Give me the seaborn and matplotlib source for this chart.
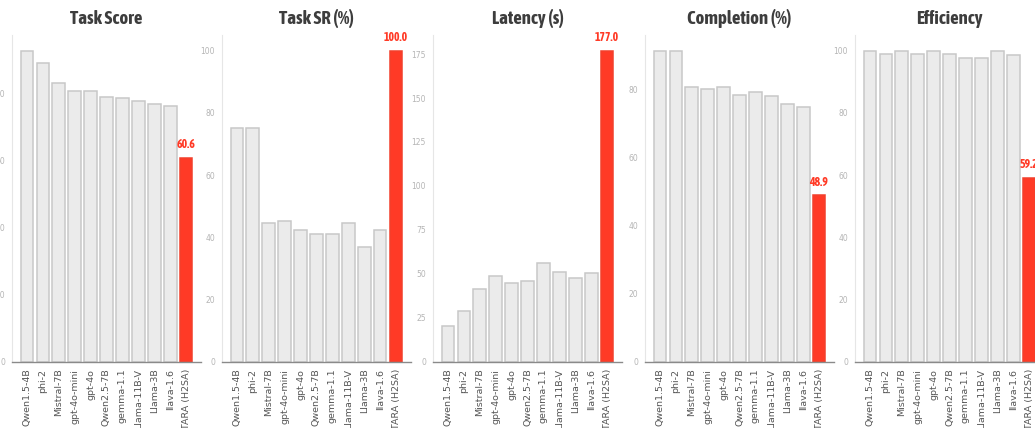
import matplotlib
matplotlib.use("Agg")
import matplotlib.pyplot as plt
from matplotlib import font_manager
import seaborn as sns
import pandas as pd

models = ["Qwen1.5-4B", "phi-2", "Mistral-7B", "gpt-4o-mini", "gpt-4o",
          "Qwen2.5-7B", "gemma-1.1", "Llama-11B-V", "Llama-3B", "llava-1.6",
          "STARA (H2SA)"]

task_score = [92.7, 89.0, 82.9, 80.7, 80.7, 78.9, 78.6, 77.6, 76.9, 76.1, 60.6]
task_sr = [75.0, 75.0, 44.5, 45.2, 42.3, 41.1, 41.1, 44.5, 36.8, 42.3, 100.0]
latency = [20.1, 28.7, 41.4, 48.8, 44.6, 45.9, 56.2, 51.2, 47.6, 50.3, 177.0]
completion = [91.5, 91.5, 80.8, 80.2, 80.8, 78.4, 79.3, 78.1, 75.7, 74.9, 48.9]
efficiency = [99.7, 98.8, 100.0, 99.0, 99.7, 98.8, 97.5, 97.7, 99.7, 98.5, 59.2]

metrics = [
    ("Task Score", task_score),
    ("Task SR (%)", task_sr),
    ("Latency (s)", latency),
    ("Completion (%)", completion),
    ("Efficiency", efficiency),
]

sns.set_style("white")
plt.rcParams["font.family"] = ["DejaVu Sans"]


def narrow_font():
    """Return (family, stretch) of the narrowest bold sans face available."""
    fonts = font_manager.fontManager.ttflist
    for f in fonts:
        if ("Condensed" in f.name or "Narrow" in f.name) and f.weight in (600, 700, "bold"):
            return f.name, "normal"
    for f in fonts:
        if f.name == "DejaVu Sans" and "condensed" in str(f.stretch):
            return "DejaVu Sans", "condensed"
    return "Roboto", "normal"


head_family, head_stretch = narrow_font()

GRAY_FILL = "#ebebeb"
GRAY_EDGE = "#c8c8c8"
RED = "#ff3a26"
highlight = models[-1]
palette = {m: (RED if m == highlight else GRAY_FILL) for m in models}

W, H = 1035, 428
fig = plt.figure(figsize=(W / 100, H / 100), dpi=100)

lefts_px = [12, 222, 433, 645, 855]
width_px = 189
bottom_px = 66.3
top_px = 393

for left, (title, values) in zip(lefts_px, metrics):
    ax = fig.add_axes([left / W, bottom_px / H, width_px / W, (top_px - bottom_px) / H])
    df = pd.DataFrame({"model": models, "value": values})
    sns.barplot(data=df, x="model", y="value", hue="model", palette=palette,
                legend=False, width=0.8, saturation=1, edgecolor=GRAY_EDGE,
                linewidth=1.1, ax=ax, order=models)
    for patch, m in zip(ax.patches, models):
        if m == highlight:
            patch.set_edgecolor("#f2402c")
    n = len(models)
    span = (n - 1) + 0.8
    ax.set_xlim(-0.4 - 0.05 * span, (n - 1) + 0.4 + 0.05 * span)
    ax.set_ylim(0, max(values) * 1.05)

    ax.set_title(title, fontsize=13.5, fontweight="bold", color="#3d3d3d",
                 family=head_family, fontstretch=head_stretch, pad=8)
    ax.set_xlabel("")
    ax.set_ylabel("")

    red_val = values[-1]
    ax.text(n - 1, red_val + max(values) * 0.022, f"{red_val:.1f}",
            ha="center", va="bottom", color=RED, fontsize=8.5, fontweight="bold",
            family=head_family, fontstretch=head_stretch)

    ax.tick_params(axis="x", rotation=90, labelsize=6.8, labelcolor="#555555",
                   color="#888888", length=3, width=0.8, pad=2)
    ax.tick_params(axis="y", labelsize=5.5, labelcolor="#b5b5b5",
                   color="#bbbbbb", length=3, width=0.6, pad=2)
    for s in ("top", "right"):
        ax.spines[s].set_visible(False)
    ax.spines["left"].set_color("#e6e6e6")
    ax.spines["left"].set_linewidth(0.8)
    ax.spines["bottom"].set_color("#8a8a8a")
    ax.spines["bottom"].set_linewidth(1.0)

fig.savefig("out.png", dpi=100)
